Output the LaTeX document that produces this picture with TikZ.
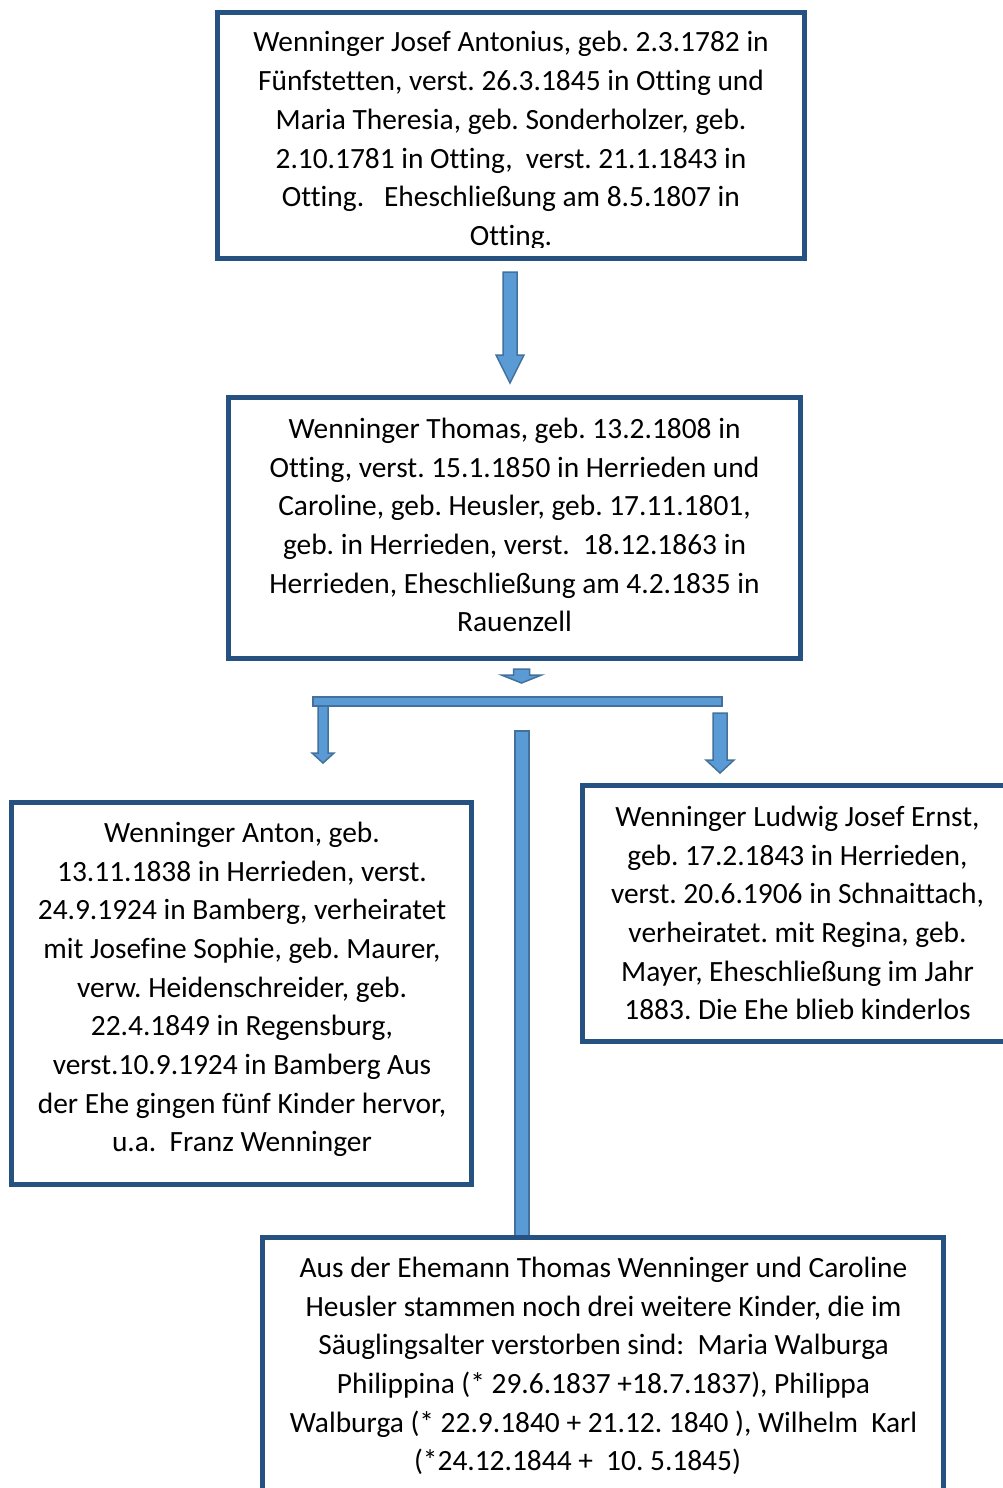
\documentclass[tikz,border=0pt]{standalone}
\usepackage{fontspec}
\setmainfont{Carlito}[Ligatures={NoCommon}]
\frenchspacing
\definecolor{boxblue}{RGB}{37,82,128}
\definecolor{arrfill}{RGB}{91,155,213}
\definecolor{arrline}{RGB}{65,113,156}
\newcommand\BArrow[6]{\draw[arrowshape] (#1-#5,#2) -- (#1+#5,#2) -- (#1+#5,#3) -- (#1+#6,#3) -- (#1,#4) -- (#1-#6,#3) -- (#1-#5,#3) -- cycle;}
\begin{document}
\begin{tikzpicture}[x=1pt,y=-1pt,
  frame/.style={draw=boxblue,line width=5pt,fill=white},
  txt/.style={align=center,inner sep=0pt,font=\fontsize{29.4}{38.7}\selectfont},
  arrowshape/.style={draw=arrline,fill=arrfill,line width=1.5pt,line join=miter}]
\useasboundingbox (0,0) rectangle (1002,1488);
\fill[white] (0,0) rectangle (1002,1488);
% boxes
\draw[frame] (217.5,12.5) rectangle (804.5,258.5);
\draw[frame] (228.5,397.5) rectangle (800.5,658.5);
\draw[frame] (11.5,802.5) rectangle (471.5,1184.5);
\draw[frame] (582.5,785.5) rectangle (1012,1041.5);
% connectors
\BArrow{510}{272}{355}{383}{7}{14}
\BArrow{521.5}{669}{675}{683}{8}{20}
\draw[arrowshape] (313,697) rectangle (722,706);
\BArrow{323}{706}{753}{763}{5}{11}
\BArrow{720}{713}{760}{773}{7}{14}
\draw[arrowshape] (515,731) rectangle (529,1236);
\draw[frame] (262.5,1237.5) rectangle (943.5,1500);
% texts
\begin{scope}
\clip (221,16) rectangle (801,247);
\node[txt] (t1) at (511,141) {Wenninger Josef Antonius, geb. 2.3.1782 in\\
Fünfstetten, verst. 26.3.1845 in Otting und\\
Maria Theresia, geb. Sonderholzer, geb.\\
2.10.1781 in Otting,\ \ verst. 21.1.1843 in\\
Otting.\ \ \ Eheschließung am 8.5.1807 in\\
Otting.};
\end{scope}
\node[txt] (t2) at (514.5,525) {Wenninger Thomas, geb. 13.2.1808 in\\
Otting, verst. 15.1.1850 in Herrieden und\\
Caroline, geb. Heusler, geb. 17.11.1801,\\
geb. in Herrieden, verst.\ \ 18.12.1863 in\\
Herrieden, Eheschließung am 4.2.1835 in\\
Rauenzell};
\node[txt] (t3) at (242,989.5) {Wenninger Anton, geb.\\
13.11.1838 in Herrieden, verst.\\
24.9.1924 in Bamberg, verheiratet\\
mit Josefine Sophie, geb. Maurer,\\
verw. Heidenschreider, geb.\\
22.4.1849 in Regensburg,\\
verst.10.9.1924 in Bamberg Aus\\
der Ehe gingen fünf Kinder hervor,\\
u.a.\ \ Franz Wenninger};
\node[txt] (t4) at (797.5,913) {Wenninger Ludwig Josef Ernst,\\
geb. 17.2.1843 in Herrieden,\\
verst. 20.6.1906 in Schnaittach,\\
verheiratet. mit Regina, geb.\\
Mayer, Eheschließung im Jahr\\
1883. Die Ehe blieb kinderlos};
\node[txt] (t5) at (603.5,1366) {Aus der Ehemann Thomas Wenninger und Caroline\\
Heusler stammen noch drei weitere Kinder, die im\\
Säuglingsalter verstorben sind:\ \ Maria Walburga\\
Philippina (* 29.6.1837 +18.7.1837), Philippa\\
Walburga (* 22.9.1840 + 21.12. 1840 ), Wilhelm\ \ Karl\\
(*24.12.1844 +\ \ 10. 5.1845)\mbox{\hspace{52pt}}};
\end{tikzpicture}
\end{document}
